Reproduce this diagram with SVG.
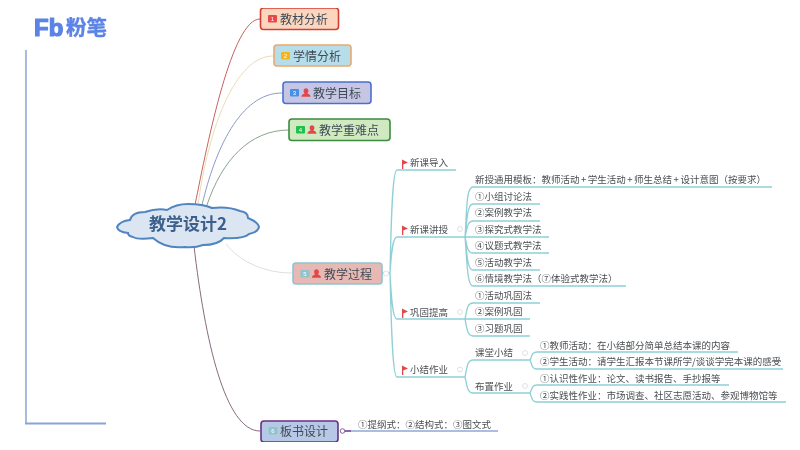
<svg xmlns="http://www.w3.org/2000/svg" width="800" height="450" viewBox="0 0 800 450">
<style>
text{font-family:"Noto Sans CJK SC","Liberation Sans",sans-serif}
.n{font-size:12px;fill:#3f4a55}
.t{font-size:9.5px;fill:#4a4f52}
.d{font-size:6px;fill:#fff;text-anchor:middle;font-family:"Liberation Sans",sans-serif}
.box{stroke-width:1.6}
.e{fill:none;stroke-width:.9}
.b{fill:none;stroke:#8fd0d6;stroke-width:1.3}
.c{fill:#fff;stroke:#d5dcdc;stroke-width:.8}
.f{fill:#e2474a}
.p{fill:#e2474a}
</style>
<defs>
<filter id="soft" x="0" y="0" width="100%" height="100%"><feGaussianBlur stdDeviation="0.35"/></filter>
<path id="person" d="M-4.5 4.2C-4.5 1.8-2 1.4-1.3 .8C-2.3 0-2.4-1-2.4-1.8C-2.4-3.2-1.4-4.2 0-4.2S2.4-3.2 2.4-1.8C2.4-1 2.3 0 1.3 .8C2 1.4 4.5 1.8 4.5 4.2Z"/>
<path id="flag" d="M0 6V-3.5L6 -.5L1.3 1.6V6Z"/>
</defs>
<rect width="800" height="450" fill="#fff"/>
<g filter="url(#soft)">
<g id="logo">
<text x="34" y="35.500" font-size="24" font-weight="700" fill="#5b83e6" stroke="#5b83e6" stroke-width="1.200" stroke-linejoin="round" style="font-family:'Liberation Sans',sans-serif">Fb</text>
<text x="66" y="34.500" font-size="20.500" font-weight="700" fill="#5b83e6" stroke="#5b83e6" stroke-width=".4">粉笔</text>
</g>
<g id="frame" fill="none" stroke-width="2">
<path d="M26 50V424" stroke="#a9bbdc"/>
<path d="M25 423.500H106" stroke="#8aa3dc"/>
</g>
<g id="connectors">
<path class="e" stroke="#c0504d" d="M195 205C208 140 232 19 260 19"/>
<path class="e" stroke="#e8d9ac" d="M198 205C208 130 235 56 273 56"/>
<path class="e" stroke="#7f8fc0" d="M202 205C215 150 240 93 282 93"/>
<path class="e" stroke="#7a9a80" d="M207 205C222 160 250 130 289 130"/>
<path class="e" stroke="#d8dcd8" d="M226 244C240 262 265 273 292 273"/>
<path class="e" stroke="#7a5a70" d="M194 246C205 340 225 431 260 431"/>
<path class="b" d="M382 273H390M390 273C391 230 392 170 397 170H456M390 273C391 260 392 237 397 237H465M390 273C391 290 392 319 397 319H465M390 273C391 310 392 377 397 377H465"/>
<path class="b" d="M465 237C467 210 466 187 473 187H772M465 237C467 222 467 204 473 204H540M465 237C467 230 467 221 473 221H540M465 237H549M465 237C467 245 467 253 473 253H549M465 237C467 252 467 270 473 270H540M465 237C467 260 467 286 473 286H626"/>
<path class="b" d="M465 319C467 310 467 303 473 303H540M465 319H530M465 319C467 328 467 336 473 336H530"/>
<path class="b" d="M465 377C467 368 467 360 473 360H530M465 377C467 385 467 393 473 393H530"/>
<path class="b" d="M530 360C532 356 532 352 537 352H738M530 360C532 365 532 369 537 369H783"/>
<path class="b" d="M530 393C532 389 532 385 537 385H729M530 393C532 398 532 402 537 402H786"/>
<path fill="none" stroke="#5b7fc0" stroke-width="1.200" d="M345 431H498"/>
<path fill="none" stroke="#6a2f85" stroke-width="1.200" d="M345 431H351"/>
<circle class="c" cx="386" cy="273.500" r="2.500"/>
<circle class="c" cx="460" cy="229" r="2.500"/>
<circle class="c" cx="460" cy="312" r="2.500"/>
<circle class="c" cx="460" cy="369.500" r="2.500"/>
<circle class="c" cx="525" cy="353" r="2.500"/>
<circle class="c" cx="525" cy="386" r="2.500"/>
<circle cx="342.500" cy="431" r="2.300" fill="#fff" stroke="#6a3f7d" stroke-width=".8"/>
</g>
<g id="root">
<path fill="#dce6f2" stroke="#4f86c0" stroke-width="2" d="M117 227Q120 221 130 220Q132 212 145 212Q157 208 167 210Q176 204 188 204Q203 204 212 208Q228 206 240 211Q248 212 248 218Q258 222 259 227Q258 232 249 234Q244 239 224 238Q218 245 203 245Q195 248 185 247Q165 249 153 238Q138 240 133 237Q128 236 128 233Q118 232 117 227Z"/>
<text x="149" y="230" font-size="17" font-weight="700" fill="#3c5f8c">教学设计2</text>
</g>
<g id="n1">
<rect class="box" x="260.500" y="8" width="78" height="21.500" rx="3" fill="#fbd6bf" stroke="#d63c32"/>
<rect x="268" y="15" width="9" height="7.500" rx="1" fill="#e4484c"/><text class="d" x="272.500" y="21">1</text>
<text class="n" x="280" y="23.500">教材分析</text>
</g>
<g id="n2">
<rect class="box" x="274" y="45" width="77" height="21" rx="3" fill="#b6deea" stroke="#eba96a"/>
<rect x="281" y="52" width="9" height="7.500" rx="1" fill="#f2b61e"/><text class="d" x="285.500" y="58">2</text>
<text class="n" x="293" y="60.500">学情分析</text>
</g>
<g id="n3">
<rect class="box" x="283" y="82" width="88" height="21.500" rx="3" fill="#c6c6e4" stroke="#4a70cf"/>
<rect x="290" y="89" width="9" height="7.500" rx="1" fill="#4a8fe6"/><text class="d" x="294.500" y="95">3</text>
<use href="#person" class="p" x="306" y="92.500"/>
<text class="n" x="313" y="97.500">教学目标</text>
</g>
<g id="n4">
<rect class="box" x="289" y="119" width="101" height="21.500" rx="3" fill="#d0e9c0" stroke="#3d8b3d"/>
<rect x="296" y="126" width="9" height="7.500" rx="1" fill="#1ec24a"/><text class="d" x="300.500" y="132">4</text>
<use href="#person" class="p" x="312" y="129.500"/>
<text class="n" x="319" y="134.500">教学重难点</text>
</g>
<g id="n5">
<rect class="box" x="293" y="263" width="89" height="21" rx="3" fill="#e6b9b5" stroke="#8fc4d0"/>
<rect x="300.500" y="270" width="9" height="7.500" rx="1" fill="#8fc4cc"/><text class="d" x="305" y="276">5</text>
<use href="#person" class="p" x="316.500" y="273.500"/>
<text class="n" x="324" y="278.500">教学过程</text>
</g>
<g id="n6">
<rect class="box" x="261" y="421" width="77" height="21" rx="3" fill="#b7c8e6" stroke="#6a2f85"/>
<rect x="268.500" y="427" width="9" height="7.500" rx="1" fill="#8fc4cc"/><text class="d" x="273" y="433">6</text>
<text class="n" x="280" y="436">板书设计</text>
</g>
<g id="branch-a">
<use href="#flag" class="f" x="402" y="163"/><text class="t" x="410" y="166">新课导入</text>
<use href="#flag" class="f" x="402" y="229"/><text class="t" x="410" y="232.500">新课讲授</text>
<use href="#flag" class="f" x="402" y="312"/><text class="t" x="410" y="315.500">巩固提高</text>
<use href="#flag" class="f" x="402" y="369"/><text class="t" x="410" y="373">小结作业</text>
</g>
<g id="branch-b">
<text class="t" x="475" y="182.500">新授通用模板：教师活动<tspan dx="1.500">+</tspan><tspan dx="1.500">学生活动</tspan><tspan dx="1.500">+</tspan><tspan dx="1.500">师生总结</tspan><tspan dx="1.500">+</tspan><tspan dx="1.500">设计意图（按要求）</tspan></text>
<text class="t" x="475" y="199.500">①小组讨论法</text>
<text class="t" x="475" y="216">②案例教学法</text>
<text class="t" x="475" y="232.500">③探究式教学法</text>
<text class="t" x="475" y="249">④议题式教学法</text>
<text class="t" x="475" y="265.500">⑤活动教学法</text>
<text class="t" x="475" y="282">⑥情境教学法（⑦体验式教学法）</text>
<text class="t" x="475" y="298.500">①活动巩固法</text>
<text class="t" x="475" y="315">②案例巩固</text>
<text class="t" x="475" y="332">③习题巩固</text>
<text class="t" x="475" y="356">课堂小结</text>
<text class="t" x="475" y="389.500">布置作业</text>
</g>
<g id="branch-c">
<text class="t" x="540" y="348.500">①教师活动：在小结部分简单总结本课的内容</text>
<text class="t" x="540" y="365">②学生活动：请学生汇报本节课所学/谈谈学完本课的感受</text>
<text class="t" x="540" y="381.500">①认识性作业：论文、读书报告、手抄报等</text>
<text class="t" x="540" y="398.500">②实践性作业：市场调查、社区志愿活动、参观博物馆等</text>
<text class="t" x="358" y="427.500">①提纲式：②结构式：③图文式</text>
</g>
</g>
</svg>
